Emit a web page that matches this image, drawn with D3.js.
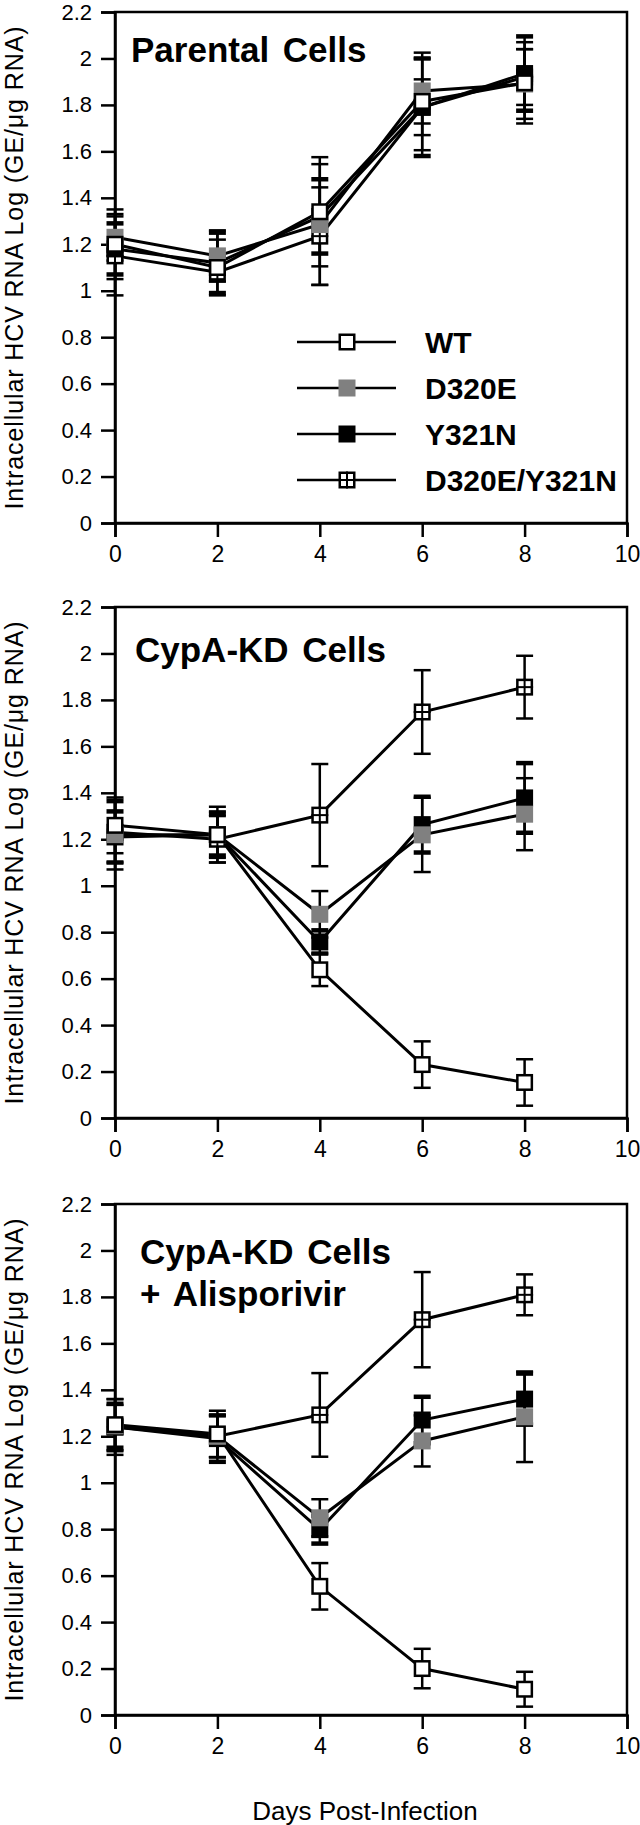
<!DOCTYPE html>
<html><head><meta charset="utf-8">
<script src="https://cdn.jsdelivr.net/npm/d3@7"></script>
<style>body{margin:0;background:#fff}svg text{font-family:"Liberation Sans",Arial,sans-serif;fill:#000}</style>
</head><body>
<svg id="c" width="640" height="1825"></svg>
<script>
const days = [0, 2, 4, 6, 8];
const seriesNames = ["WT", "D320E", "Y321N", "D320E/Y321N"];
const yTickValues = [0, 0.2, 0.4, 0.6, 0.8, 1, 1.2, 1.4, 1.6, 1.8, 2, 2.2];
const xTickValues = [0, 2, 4, 6, 8, 10];
const yTitle = "Intracellular HCV RNA Log (GE/μg RNA)";
const xTitle = "Days Post-Infection";
const panelTitles = [["Parental Cells"], ["CypA-KD Cells"], ["CypA-KD Cells", "+ Alisporivir"]];

// Panel 1: Parental cells
const parentalWT = [1.20, 1.10, 1.34, 1.815, 1.895];
const parentalWTErr = [0.15, 0.12, 0.235, 0.21, 0.175];
const parentalD320E = [1.23, 1.15, 1.285, 1.86, 1.89];
const parentalD320EErr = [0.10, 0.11, 0.26, 0.14, 0.15];
const parentalY321N = [1.18, 1.12, 1.32, 1.79, 1.935];
const parentalY321NErr = [0.11, 0.13, 0.16, 0.21, 0.16];
const parentalDouble = [1.15, 1.08, 1.235, 1.79, 1.92];
const parentalDoubleErr = [0.17, 0.04, 0.21, 0.12, 0.12];

// Panel 2: CypA-KD cells
const kdWT = [1.26, 1.22, 0.638, 0.23, 0.153];
const kdWTErr = [0.12, 0.12, 0.07, 0.10, 0.10];
const kdD320E = [1.22, 1.22, 0.877, 1.219, 1.308];
const kdD320EErr = [0.15, 0.10, 0.10, 0.16, 0.155];
const kdY321N = [1.21, 1.22, 0.758, 1.263, 1.378];
const kdY321NErr = [0.11, 0.09, 0.05, 0.12, 0.15];
const kdDouble = [1.23, 1.20, 1.304, 1.748, 1.855];
const kdDoubleErr = [0.13, 0.10, 0.22, 0.18, 0.135];

// Panel 3: CypA-KD cells + Alisporivir
const aliWT = [1.25, 1.21, 0.554, 0.20, 0.111];
const aliWTErr = [0.11, 0.10, 0.10, 0.085, 0.075];
const aliD320E = [1.245, 1.20, 0.849, 1.18, 1.284];
const aliD320EErr = [0.09, 0.09, 0.08, 0.11, 0.195];
const aliY321N = [1.24, 1.19, 0.798, 1.27, 1.36];
const aliY321NErr = [0.10, 0.10, 0.06, 0.10, 0.11];
const aliDouble = [1.24, 1.20, 1.292, 1.702, 1.809];
const aliDoubleErr = [0.12, 0.09, 0.18, 0.205, 0.088];

const panelsData = [
  [[parentalWT, parentalWTErr], [parentalD320E, parentalD320EErr], [parentalY321N, parentalY321NErr], [parentalDouble, parentalDoubleErr]],
  [[kdWT, kdWTErr], [kdD320E, kdD320EErr], [kdY321N, kdY321NErr], [kdDouble, kdDoubleErr]],
  [[aliWT, aliWTErr], [aliD320E, aliD320EErr], [aliY321N, aliY321NErr], [aliDouble, aliDoubleErr]]
];

const svg = d3.select("#c");
const L = 115, R = 627, H = 511;
const tops = [12, 607, 1204];
const x = d3.scaleLinear().domain([0, 10]).range([L, R]);
const fmt = d => String(+d.toFixed(1));
const MS = 17;
const fills = ["#fff", "#808080", "#000", "#fff"];

function marker(g, cx, cy, i) {
  const s = MS;
  if (i === 1) {
    g.append("rect").attr("x", cx - s/2).attr("y", cy - s/2).attr("width", s).attr("height", s).attr("fill", "#808080");
    return;
  }
  g.append("rect").attr("x", cx - s/2 + 1.25).attr("y", cy - s/2 + 1.25).attr("width", s - 2.5).attr("height", s - 2.5)
    .attr("fill", fills[i]).attr("stroke", "#000").attr("stroke-width", 2.5);
  if (i === 3) {
    g.append("line").attr("x1", cx).attr("x2", cx).attr("y1", cy - s/2).attr("y2", cy + s/2).attr("stroke", "#000").attr("stroke-width", 2);
    g.append("line").attr("x1", cx - s/2).attr("x2", cx + s/2).attr("y1", cy).attr("y2", cy).attr("stroke", "#000").attr("stroke-width", 2);
  }
}

panelsData.forEach((pd, p) => {
  const top = tops[p];
  const y = d3.scaleLinear().domain([0, 2.2]).range([top + H, top]);
  const g = svg.append("g");

  g.append("rect").attr("x", L).attr("y", top).attr("width", R - L).attr("height", H)
    .attr("fill", "none").attr("stroke", "#000").attr("stroke-width", 2.5);

  const ya = g.append("g").attr("transform", `translate(${L},0)`)
    .call(d3.axisLeft(y).tickValues(yTickValues).tickFormat(fmt).tickSize(14).tickPadding(9));
  ya.select(".domain").attr("stroke-width", 2.5);
  ya.selectAll(".tick line").attr("stroke-width", 2.5);
  ya.selectAll("text").attr("font-size", 22).style("font-family", "'Liberation Sans',Arial,sans-serif");

  const xa = g.append("g").attr("transform", `translate(0,${top + H})`)
    .call(d3.axisBottom(x).tickValues(xTickValues).tickFormat(d3.format("d")).tickSize(14).tickPadding(9));
  xa.select(".domain").attr("stroke-width", 2.5);
  xa.selectAll(".tick line").attr("stroke-width", 2.5);
  xa.selectAll("text").attr("font-size", 23).style("font-family", "'Liberation Sans',Arial,sans-serif");

  g.append("text").attr("transform", `translate(23,${top + H/2}) rotate(-90)`)
    .attr("text-anchor", "middle").attr("font-size", 25).attr("letter-spacing", 0.9).text(yTitle);

  const tb = [[131, 62], [135, 662], [140, 1264]][p];
  panelTitles[p].forEach((t, k) => {
    g.append("text").attr("x", tb[0]).attr("y", tb[1] + k * 42).attr("font-size", 35)
      .attr("font-weight", "bold").attr("word-spacing", 4).text(t);
  });

  const order = [3, 2, 1, 0];
  order.forEach(i => {
    const [vals, errs] = pd[i];
    vals.forEach((v, j) => {
      const cx = x(days[j]);
      const y1 = y(v + errs[j]), y2 = y(v - errs[j]);
      const cw = i === 2 ? 4.5 : 2.5;
      g.append("line").attr("x1", cx).attr("x2", cx).attr("y1", y1).attr("y2", y2).attr("stroke", "#000").attr("stroke-width", 2.5);
      [y1, y2].forEach(yy => g.append("line").attr("x1", cx - 8.5).attr("x2", cx + 8.5).attr("y1", yy).attr("y2", yy)
        .attr("stroke", "#000").attr("stroke-width", cw));
    });
  });
  const line = d3.line().x((d, j) => x(days[j])).y(d => y(d));
  order.forEach(i => {
    g.append("path").datum(pd[i][0]).attr("d", line).attr("fill", "none").attr("stroke", "#000").attr("stroke-width", 3);
  });
  order.forEach(i => {
    pd[i][0].forEach((v, j) => marker(g, x(days[j]), y(v), i));
  });

  if (p === 0) {
    const lg = g.append("g");
    seriesNames.forEach((n, i) => {
      const ly = 342 + i * 46;
      lg.append("line").attr("x1", 297).attr("x2", 396).attr("y1", ly).attr("y2", ly).attr("stroke", "#000").attr("stroke-width", 2.5);
      marker(lg, 347, ly, i);
      lg.append("text").attr("x", 425).attr("y", ly + 11).attr("font-size", 30).attr("font-weight", "bold").text(n);
    });
  }
});

svg.append("text").attr("x", 365).attr("y", 1820).attr("text-anchor", "middle").attr("font-size", 26).text(xTitle);
</script>
</body></html>
